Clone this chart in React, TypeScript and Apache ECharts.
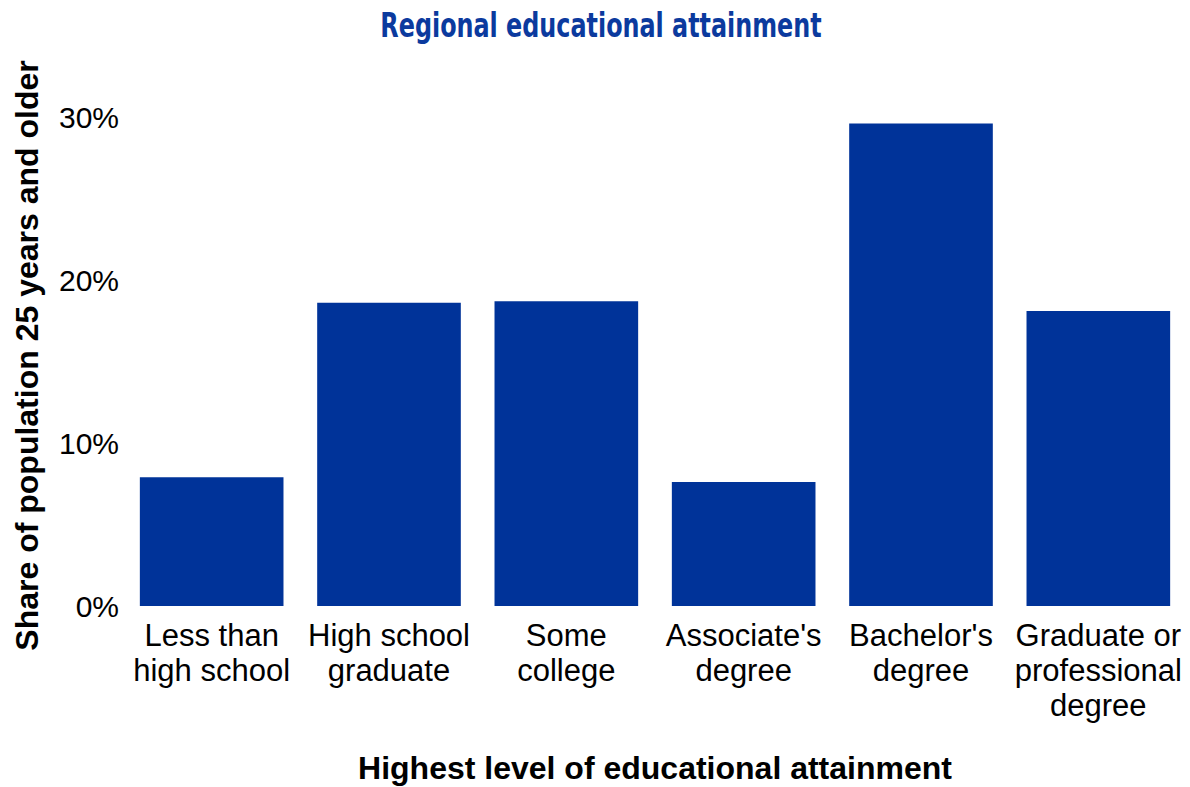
import React, { useEffect, useRef } from "react";
import * as echarts from "echarts";

const categories = [
  "Less than\nhigh school",
  "High school\ngraduate",
  "Some\ncollege",
  "Associate's\ndegree",
  "Bachelor's\ndegree",
  "Graduate or\nprofessional\ndegree",
];
const shares = [7.9, 18.6, 18.7, 7.6, 29.6, 18.1];
const yTicks = [0, 10, 20, 30];
const titleText = "Regional educational attainment";

export default function App() {
  const ref = useRef<HTMLDivElement>(null);
  useEffect(() => {
    if (!ref.current) return;
    const chart = echarts.init(ref.current, null, { renderer: "svg" });
    chart.setOption({
      animation: false,
      backgroundColor: "#ffffff",
      graphic: [
        {
          type: "text",
          x: 601,
          y: 8,
          scaleX: 0.78,
          style: {
            text: titleText,
            x: 0,
            y: 0,
            align: "center",
            verticalAlign: "top",
            font: "bold 34px 'DejaVu Sans Condensed', 'DejaVu Sans', sans-serif",
            fill: "#0b3a9e",
          },
        },
      ],
      grid: {
        left: 123,
        right: 3,
        top: 117,
        bottom: 181,
        containLabel: false,
        outerBoundsMode: "none",
      },
      xAxis: {
        type: "category",
        data: categories,
        axisLine: { show: false },
        axisTick: { show: false },
        axisLabel: {
          interval: 0,
          margin: 12,
          fontFamily: "'Liberation Sans', Arial, sans-serif",
          fontSize: 31,
          lineHeight: 35,
          color: "#000000",
        },
        name: "Highest level of educational attainment",
        nameLocation: "middle",
        nameGap: 146,
        nameTextStyle: {
          fontFamily: "'Liberation Sans', Arial, sans-serif",
          fontWeight: "bold",
          fontSize: 32,
          color: "#000000",
        },
      },
      yAxis: {
        type: "value",
        min: yTicks[0],
        max: yTicks[yTicks.length - 1],
        interval: 10,
        splitLine: { show: false },
        axisLine: { show: false },
        axisTick: { show: false },
        axisLabel: {
          margin: 4,
          formatter: (v: number) => `${v}%`,
          fontFamily: "'Liberation Sans', Arial, sans-serif",
          fontSize: 30,
          color: "#000000",
        },
        name: "Share of population 25 years and older",
        nameLocation: "middle",
        nameGap: 80,
        nameTextStyle: {
          fontFamily: "'Liberation Sans', Arial, sans-serif",
          fontWeight: "bold",
          fontSize: 32,
          color: "#000000",
          padding: [0, 0, 0, 12],
        },
      },
      series: [
        {
          type: "bar",
          data: shares,
          barCategoryGap: "19%",
          itemStyle: { color: "#003399" },
        },
      ],
    });
    return () => chart.dispose();
  }, []);
  return (
    <div
      ref={ref}
      style={{ position: "fixed", left: 0, top: 0, width: 1190, height: 787 }}
    />
  );
}
